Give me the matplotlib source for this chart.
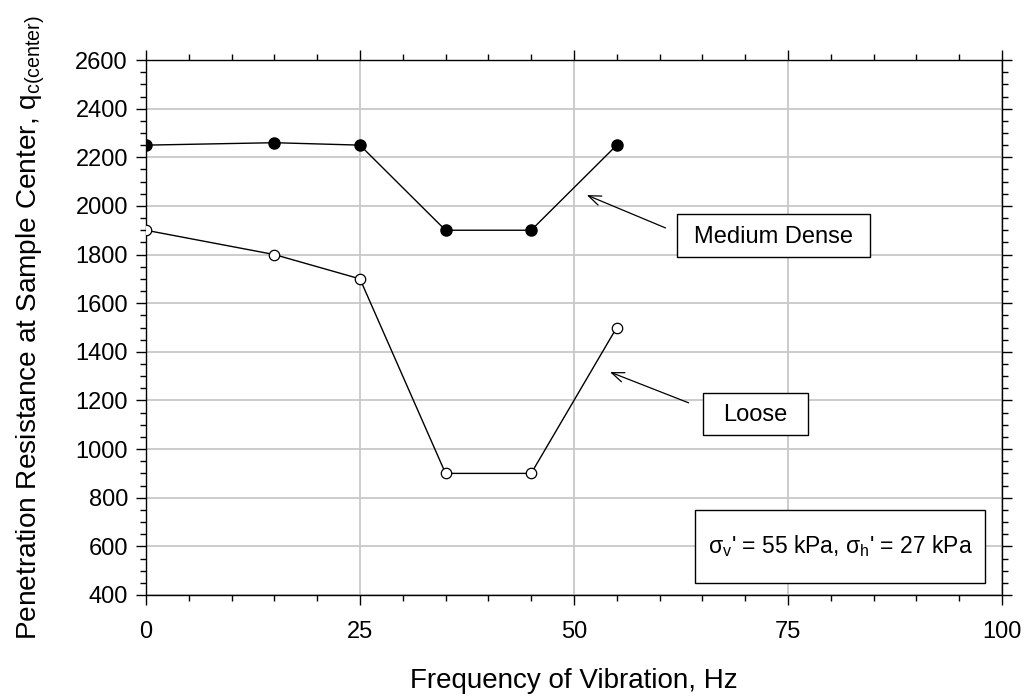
import matplotlib
matplotlib.use('Agg')
import matplotlib.pyplot as plt
from matplotlib.patches import Rectangle
from matplotlib.ticker import MultipleLocator

plt.rcParams['font.family'] = ['Liberation Sans', 'DejaVu Sans']
plt.rcParams['mathtext.fontset'] = 'custom'
plt.rcParams['mathtext.rm'] = 'Liberation Sans'
plt.rcParams['mathtext.it'] = 'Liberation Sans'

# frequency of vibration (Hz)
freq = [0, 15, 25, 35, 45, 55]
# penetration resistance at sample center
medium_dense = [2250, 2260, 2250, 1900, 1900, 2250]
loose = [1900, 1800, 1700, 900, 900, 1500]

fig = plt.figure(figsize=(10.3, 6.98), dpi=100)
ax = fig.add_axes([0.1417, 0.1476, 0.8311, 0.7664])

ax.plot(freq, medium_dense, '-o', color='black', lw=1.0, ms=8,
        mfc='black', mec='black', zorder=3)
ax.plot(freq, loose, '-o', color='black', lw=1.0, ms=7.5,
        mfc='white', mec='black', mew=0.9, zorder=3)

ax.set_xlim(0, 100)
ax.set_ylim(400, 2600)
ax.xaxis.set_major_locator(MultipleLocator(25))
ax.xaxis.set_minor_locator(MultipleLocator(5))
ax.yaxis.set_major_locator(MultipleLocator(200))
ax.yaxis.set_minor_locator(MultipleLocator(50))
ax.tick_params(which='both', direction='out', top=True, right=True,
               labelsize=17, width=1.0)
ax.tick_params(which='major', length=7)
ax.tick_params(which='minor', length=4.5)
ax.tick_params(axis='y', which='major', pad=6)
ax.tick_params(axis='x', which='major', pad=12)
ax.grid(True, which='major', color='#c8c8c8', lw=1.3)
ax.set_axisbelow(True)
for s in ax.spines.values():
    s.set_linewidth(1.0)

ax.set_xlabel('Frequency of Vibration, Hz', fontsize=20)
ax.set_ylabel(r'Penetration Resistance at Sample Center, q$_\mathregular{c(center)}$',
              fontsize=20.2)
ax.xaxis.set_label_coords(0.5, -0.136)
ax.yaxis.set_label_coords(-0.116, 0.5)

# label boxes
ax.add_patch(Rectangle((62.0, 1790), 22.6, 177, facecolor='white',
                       edgecolor='black', lw=1.0, zorder=4))
ax.text(73.3, 1872, 'Medium Dense', ha='center', va='center', fontsize=17, zorder=5)
ax.add_patch(Rectangle((65.1, 1058), 12.2, 173, facecolor='white',
                       edgecolor='black', lw=1.0, zorder=4))
ax.text(71.2, 1140, 'Loose', ha='center', va='center', fontsize=17, zorder=5)
ax.add_patch(Rectangle((64.1, 450), 33.9, 300, facecolor='white',
                       edgecolor='black', lw=1.0, zorder=4))
ax.text(81.1, 600, "σ$_\\mathregular{v}$' = 55 kPa, σ$_\\mathregular{h}$' = 27 kPa",
        ha='center', va='center', fontsize=16.5, zorder=5)

arrow = dict(arrowstyle='->,head_length=0.9,head_width=0.35', color='black', lw=0.9)
ax.annotate('', xy=(51.2, 2049), xytext=(61.0, 1905), arrowprops=arrow)
ax.annotate('', xy=(53.9, 1321), xytext=(63.7, 1186), arrowprops=arrow)

fig.savefig('out.png', dpi=100)
